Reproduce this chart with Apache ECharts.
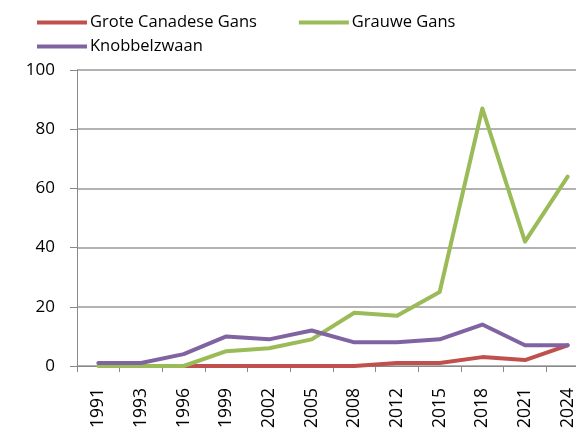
<!DOCTYPE html>
<html>
<head>
<meta charset="utf-8">
<script src="https://cdn.jsdelivr.net/npm/echarts@6/dist/echarts.min.js"></script>
<style>
  html, body { margin: 0; padding: 0; background: #fff; }
  #chart { width: 576px; height: 430px; }
</style>
</head>
<body>
<div id="chart"></div>
<script>
const years = ['1991', '1993', '1996', '1999', '2002', '2005', '2008', '2012', '2015', '2018', '2021', '2024']
const groteCanadeseGans = [null, null, 0, 0, 0, 0, 0, 1, 1, 3, 2, 7]
const grauweGans = [0, 0, 0, 5, 6, 9, 18, 17, 25, 87, 42, 64]
const knobbelzwaan = [1, 1, 4, 10, 9, 12, 8, 8, 9, 14, 7, 7]

const font = 'Open Sans'
const axisGray = '#898989'

const lineSeries = (name, data, color) => ({
  name,
  type: 'line',
  data,
  symbol: 'none',
  lineStyle: { width: 4, color, cap: 'round', join: 'round' },
  itemStyle: { color }
})

const legendBase = {
  left: 32,
  orient: 'horizontal',
  icon: 'rect',
  itemWidth: 50,
  itemHeight: 4,
  itemGap: 42,
  textStyle: { fontFamily: font, fontSize: 16.5, color: '#000', padding: [0, 0, 0, -2] }
}

const chart = echarts.init(document.getElementById('chart'))
chart.setOption({
  animation: false,
  legend: [
    { ...legendBase, top: 9, data: ['Grote Canadese Gans', 'Grauwe Gans'] },
    { ...legendBase, top: 33, data: ['Knobbelzwaan'] }
  ],
  // outerBoundsMode none so the plot may run past the right edge like the original
  grid: { left: 77, right: -13, top: 70, bottom: 64, outerBoundsMode: 'none' },
  xAxis: {
    type: 'category',
    data: years,
    boundaryGap: true,
    axisLine: { lineStyle: { color: axisGray, width: 1 } },
    axisTick: { show: true, length: 6, lineStyle: { color: axisGray } },
    axisLabel: { rotate: 90, margin: 22, fontFamily: font, fontSize: 17.5, color: '#000', interval: 0 }
  },
  yAxis: {
    type: 'value',
    min: 0,
    max: 100,
    interval: 20,
    axisLine: { show: true, lineStyle: { color: axisGray } },
    axisTick: { show: true, length: 7, lineStyle: { color: axisGray } },
    axisLabel: { margin: 22, fontFamily: font, fontSize: 17, color: '#000' },
    splitLine: { lineStyle: { color: '#999', width: 1.5 } }
  },
  series: [
    lineSeries('Grote Canadese Gans', groteCanadeseGans, '#C0504D'),
    lineSeries('Grauwe Gans', grauweGans, '#9BBB59'),
    lineSeries('Knobbelzwaan', knobbelzwaan, '#8064A2')
  ]
})
</script>
</body>
</html>
